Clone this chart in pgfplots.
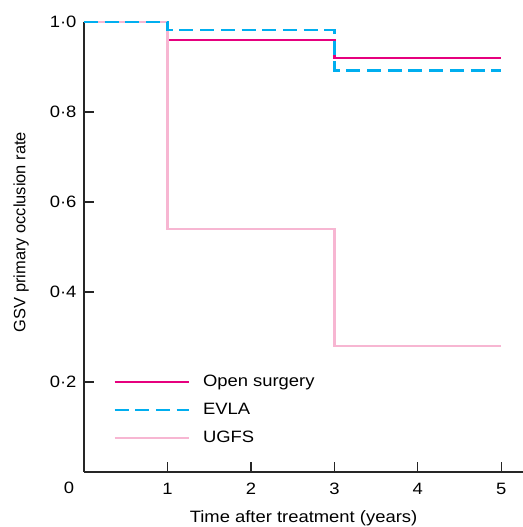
\documentclass[border=0pt]{standalone}
\usepackage{pgfplots}
\pgfplotsset{compat=1.18}
\usepackage{fontspec}
\setmainfont{Liberation Sans}[FakeStretch=1.12]
\newfontfamily\ylfont{Liberation Sans}
\definecolor{cOpen}{HTML}{E6007E}
\definecolor{cEVLA}{HTML}{00AEEF}
\definecolor{cUGFS}{HTML}{F7B6D2}
\begin{document}
\begin{tikzpicture}
\begin{axis}[
  scale only axis, width=439bp, height=450bp,
  xmin=0, xmax=5.26, ymin=0, ymax=1,
  clip=false,
  axis x line*=bottom, axis y line*=left,
  axis line style={line width=1.3bp, black!85, -},
  xtick={1,2,3,4,5}, xticklabels={1,2,3,4,5},
  ytick={0.2,0.4,0.6,0.8,1.0},
  yticklabels={0·2,0·4,0·6,0·8,1·0},
  tick align=inside, major tick length=10bp,
  tick style={line width=1.2bp, black!85},
  font=\fontsize{16.5}{20}\selectfont,
  yticklabel style={xshift=-4bp},
  xticklabel style={yshift=-8bp},
  xlabel={Time after treatment (years)},
  ylabel={GSV primary occlusion rate},
  xlabel style={at={(axis description cs:0.5,0)}, anchor=center, yshift=-46bp},
  ylabel style={at={(axis description cs:-0.1435,0.533)}, anchor=center,
    font=\ylfont\fontsize{16.5}{20}\selectfont},
  legend style={draw=none, fill=none, at={(axis cs:0.348,0.138)}, anchor=west,
    inner sep=0pt, row sep=11bp, font=\fontsize{16.5}{20}\selectfont,
    nodes={inner sep=0pt, text height=13bp, text depth=4bp}},
  legend cell align=left,
  legend image code/.code={\draw[#1] (0bp,0bp) -- (74bp,0bp);},
  every axis legend/.append style={column sep=13bp},
]
\addlegendimage{cOpen, line width=2.8bp}
\addlegendentry{Open surgery}
\addlegendimage{cEVLA, line width=2.8bp, dash pattern=on 14bp off 6.7bp}
\addlegendentry{EVLA}
\addlegendimage{cUGFS, line width=2.8bp}
\addlegendentry{UGFS}
\addplot[cOpen, line width=2.8bp, forget plot] coordinates {(0,1)(1,1)(1,0.96)(3,0.96)(3,0.92)(5,0.92)};
\addplot[cUGFS, line width=2.8bp, forget plot] coordinates {(0,1)(1,1)(1,0.54)(3,0.54)(3,0.28)(5,0.28)};
\addplot[cEVLA, line width=2.8bp, dash pattern=on 14bp off 6.7bp, forget plot] coordinates {(0,1)(1,1)(1,0.982)(3,0.982)(3,0.893)(5,0.893)};
\node[font=\fontsize{16.5}{20}\selectfont] at (axis cs:0,0) [xshift=-15bp, yshift=-16bp] {0};
\coordinate (O) at (rel axis cs:0,0);
\end{axis}
\pgfresetboundingbox
\path[use as bounding box] ([shift={(-84bp,-55bp)}]O) rectangle ([shift={(439bp,472bp)}]O);
\end{tikzpicture}
\end{document}
